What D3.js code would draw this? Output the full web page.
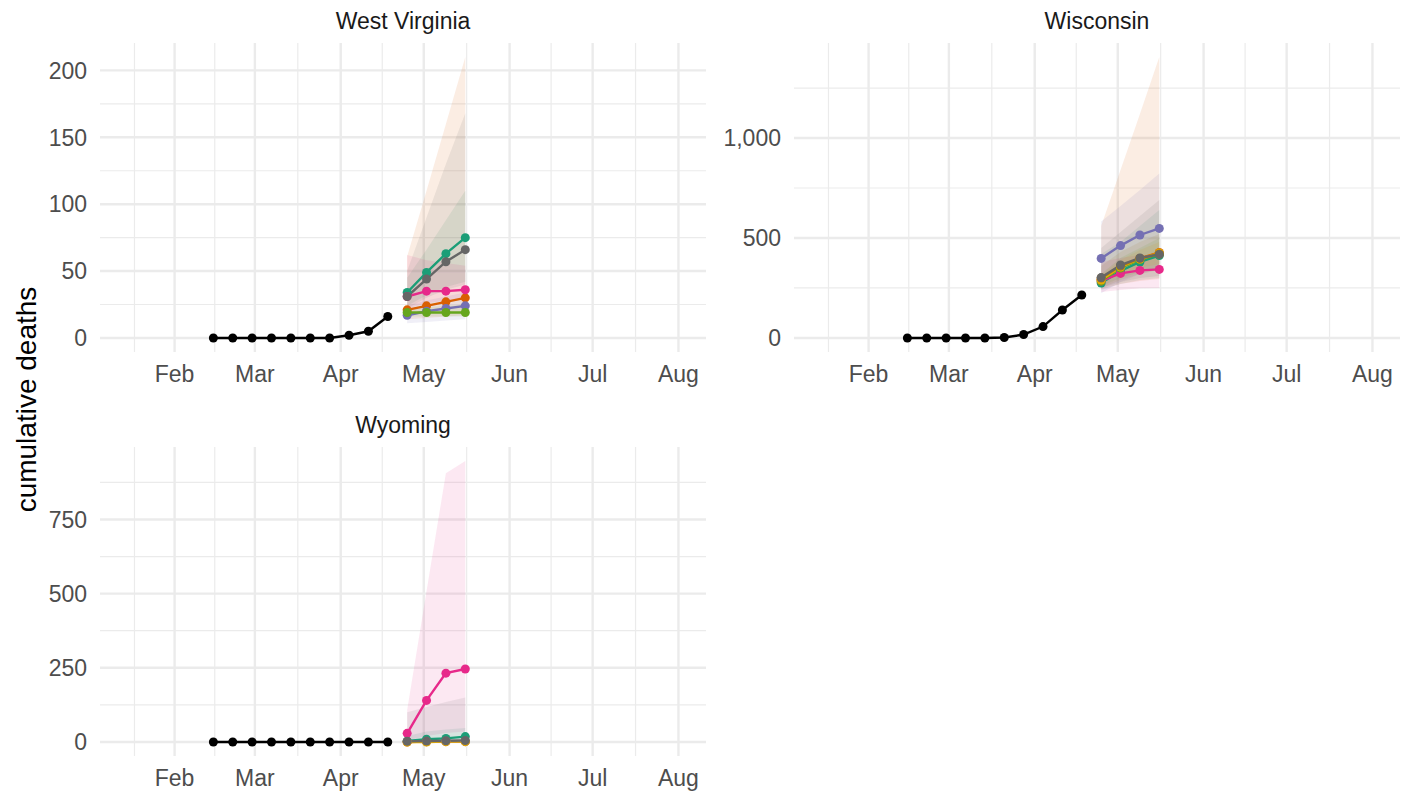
<!DOCTYPE html>
<html>
<head>
<meta charset="utf-8">
<script src="https://cdn.jsdelivr.net/npm/d3@7"></script>
<style>
  html, body { margin: 0; padding: 0; background: #ffffff; }
  svg { display: block; }
  text { font-family: "Liberation Sans", Arial, Helvetica, sans-serif; }
</style>
</head>
<body>
<svg id="chart" width="1404" height="798"></svg>
<script>
// ---------------- DATA ----------------
const states = ["West Virginia", "Wisconsin", "Wyoming"];
const xLimits = ["2020-01-15", "2020-08-01"];
const monthTicks = ["2020-02-01", "2020-03-01", "2020-04-01", "2020-05-01", "2020-06-01", "2020-07-01", "2020-08-01"];
const monthLabels = ["Feb", "Mar", "Apr", "May", "Jun", "Jul", "Aug"];

const obsDates = ["2020-02-15", "2020-02-22", "2020-02-29", "2020-03-07", "2020-03-14",
                  "2020-03-21", "2020-03-28", "2020-04-04", "2020-04-11", "2020-04-18"];
const wvObserved = [0, 0, 0, 0, 0, 0, 0, 2, 5, 16];
const wiObserved = [0, 0, 0, 0, 0, 2, 17, 57, 140, 215];
const wyObserved = [0, 0, 0, 0, 0, 0, 0, 0, 0, 0];

const fcDates = ["2020-04-25", "2020-05-02", "2020-05-09", "2020-05-16"];
const models = ["Model 1", "Model 2", "Model 3", "Model 4", "Model 5", "Model 6", "Model 7", "Model 8"];
const modelColors = ["#1b9e77", "#d95f02", "#7570b3", "#e7298a", "#66a61e", "#e6ab02", "#a6761d", "#666666"];

// West Virginia: median, lower, upper per model (null = no forecast)
const wvMedian = [
  [34, 49, 63, 75],
  [21, 24, 27, 30],
  [17, 20, 22, 24],
  [31, 35, 35, 36],
  [19, 19, 19, 19],
  null,
  null,
  [31, 44, 57, 66]
];
const wvLower = [
  [24, 32, 38, 42],
  [14, 15, 16, 17],
  [11, 12, 13, 14],
  [22, 26, 28, 29],
  [16, 16, 16, 16],
  null,
  null,
  [22, 30, 36, 40]
];
const wvUpper = [
  [45, 66, 88, 110],
  [61, 110, 160, 210],
  [24, 28, 31, 34],
  [62, 58, 56, 54],
  [22, 23, 24, 25],
  null,
  null,
  [50, 90, 130, 168]
];

// Wisconsin
const wiMedian = [
  [275, 335, 380, 412],
  [293, 357, 398, 428],
  [398, 462, 515, 548],
  [285, 323, 338, 343],
  [285, 350, 392, 420],
  [290, 355, 395, 425],
  [300, 360, 398, 420],
  [302, 365, 400, 418]
];
const wiLower = [
  [240, 270, 290, 300],
  [245, 270, 285, 295],
  [223, 280, 320, 345],
  [230, 240, 248, 250],
  [260, 300, 330, 350],
  [270, 320, 350, 370],
  [250, 290, 320, 340],
  [250, 280, 300, 310]
];
const wiUpper = [
  [420, 480, 560, 640],
  [560, 840, 1120, 1405],
  [582, 660, 740, 823],
  [380, 400, 415, 420],
  [320, 400, 450, 500],
  [310, 390, 440, 480],
  [360, 430, 480, 520],
  [450, 530, 610, 690]
];

// Wyoming
const wyMedian = [
  [3, 9, 12, 18],
  [0, 1, 1, 1],
  [1, 1, 2, 2],
  [29, 140, 232, 246],
  null,
  [0, 0, 1, 1],
  null,
  [2, 3, 4, 5]
];
const wyLower = [
  [0, 2, 4, 6],
  [0, 0, 0, 0],
  [0, 0, 0, 0],
  [5, 20, 30, 35],
  null,
  [0, 0, 0, 0],
  null,
  [0, 0, 0, 0]
];
const wyUpper = [
  [20, 35, 42, 47],
  [4, 6, 8, 10],
  [5, 8, 10, 12],
  [108, 508, 906, 947],
  null,
  [3, 4, 5, 6],
  null,
  [100, 118, 135, 150]
];

const yBreaks = [
  [0, 50, 100, 150, 200],
  [0, 500, 1000],
  [0, 250, 500, 750]
];

// ---------------- DRAW ----------------
const svg = d3.select("#chart");
const parse = d3.utcParse("%Y-%m-%d");
const panelW = 606, panelH = 309;
const panels = [
  { x0: 100, y0: 43, obs: wvObserved, med: wvMedian, lo: wvLower, hi: wvUpper },
  { x0: 794, y0: 43, obs: wiObserved, med: wiMedian, lo: wiLower, hi: wiUpper },
  { x0: 100, y0: 447, obs: wyObserved, med: wyMedian, lo: wyLower, hi: wyUpper }
];

const gridCol = "#ebebeb";
const majorW = 2.4, minorW = 1.2;
const tickFont = 23;

function minorBreaks(b, lo, hi) {
  // ggplot2 / scales regular_minor_breaks
  let bb = b.slice();
  const bd = bb[1] - bb[0];
  if (lo < bb[0]) bb.unshift(bb[0] - bd);
  if (hi > bb[bb.length - 1]) bb.push(bb[bb.length - 1] + bd);
  const out = [];
  for (let i = 0; i < bb.length - 1; i++) out.push((bb[i] + bb[i + 1]) / 2);
  return out.filter(v => v >= lo && v <= hi);
}

const xl0 = +parse(xLimits[0]), xl1 = +parse(xLimits[1]);
const xpad = (xl1 - xl0) * 0.05;
const xDom = [xl0 - xpad, xl1 + xpad];
const majorX = monthTicks.map(d => +parse(d));
const minorX = minorBreaks(majorX, xDom[0], xDom[1]);

panels.forEach((p, pi) => {
  const g = svg.append("g").attr("transform", `translate(${p.x0},${p.y0})`);
  const x = d3.scaleUtc().domain(xDom.map(v => new Date(v))).range([0, panelW]);

  // y domain from data (all values)
  let vals = p.obs.slice();
  [p.med, p.lo, p.hi].forEach(arr => arr.forEach(r => { if (r) vals = vals.concat(r); }));
  const ymin = d3.min(vals), ymax = d3.max(vals);
  const ypad = (ymax - ymin) * 0.05;
  const yDom = [ymin - ypad, ymax + ypad];
  const y = d3.scaleLinear().domain(yDom).range([panelH, 0]);

  const majorY = yBreaks[pi];
  const minorY = minorBreaks(majorY, yDom[0], yDom[1]);

  // grid
  const grid = g.append("g");
  grid.selectAll(".ymin").data(minorY).enter().append("line")
    .attr("x1", 0).attr("x2", panelW).attr("y1", d => y(d)).attr("y2", d => y(d))
    .attr("stroke", gridCol).attr("stroke-width", minorW);
  grid.selectAll(".xmin").data(minorX).enter().append("line")
    .attr("y1", 0).attr("y2", panelH).attr("x1", d => x(new Date(d))).attr("x2", d => x(new Date(d)))
    .attr("stroke", gridCol).attr("stroke-width", minorW);
  grid.selectAll(".ymaj").data(majorY).enter().append("line")
    .attr("x1", 0).attr("x2", panelW).attr("y1", d => y(d)).attr("y2", d => y(d))
    .attr("stroke", gridCol).attr("stroke-width", majorW);
  grid.selectAll(".xmaj").data(majorX).enter().append("line")
    .attr("y1", 0).attr("y2", panelH).attr("x1", d => x(new Date(d))).attr("x2", d => x(new Date(d)))
    .attr("stroke", gridCol).attr("stroke-width", majorW);

  // y axis labels
  const fmt = d3.format(",");
  g.append("g").selectAll("text").data(majorY).enter().append("text")
    .attr("x", -13).attr("y", d => y(d)).attr("dy", "0.36em")
    .attr("text-anchor", "end").attr("font-size", tickFont).attr("fill", "#4d4d4d")
    .text(d => fmt(d));

  // x axis labels
  g.append("g").selectAll("text").data(majorX).enter().append("text")
    .attr("x", d => x(new Date(d))).attr("y", panelH + 30)
    .attr("text-anchor", "middle").attr("font-size", tickFont).attr("fill", "#4d4d4d")
    .text((d, i) => monthLabels[i]);

  // strip title
  g.append("text").attr("x", panelW / 2).attr("y", -14)
    .attr("text-anchor", "middle").attr("font-size", tickFont).attr("fill", "#1a1a1a")
    .text(states[pi]);

  const fd = fcDates.map(parse);

  // ribbons
  const area = d3.area().x(d => x(d.date)).y0(d => y(d.lo)).y1(d => y(d.hi));
  models.forEach((m, mi) => {
    if (!p.lo[mi]) return;
    const rows = fd.map((d, k) => ({ date: d, lo: p.lo[mi][k], hi: p.hi[mi][k] }));
    g.append("path").attr("d", area(rows))
      .attr("fill", modelColors[mi]).attr("fill-opacity", 0.11).attr("stroke", "none");
  });

  // observed
  const od = obsDates.map((d, k) => ({ date: parse(d), v: p.obs[k] }));
  const line = d3.line().x(d => x(d.date)).y(d => y(d.v));
  g.append("path").attr("d", line(od)).attr("fill", "none")
    .attr("stroke", "#000").attr("stroke-width", 2.4);
  g.append("g").selectAll("circle").data(od).enter().append("circle")
    .attr("cx", d => x(d.date)).attr("cy", d => y(d.v)).attr("r", 4.5).attr("fill", "#000");

  // forecast lines
  models.forEach((m, mi) => {
    if (!p.med[mi]) return;
    const rows = fd.map((d, k) => ({ date: d, v: p.med[mi][k] }));
    g.append("path").attr("d", line(rows)).attr("fill", "none")
      .attr("stroke", modelColors[mi]).attr("stroke-width", 2.4);
  });
  models.forEach((m, mi) => {
    if (!p.med[mi]) return;
    const rows = fd.map((d, k) => ({ date: d, v: p.med[mi][k] }));
    g.append("g").selectAll("circle").data(rows).enter().append("circle")
      .attr("cx", d => x(d.date)).attr("cy", d => y(d.v)).attr("r", 4.5)
      .attr("fill", modelColors[mi]);
  });
});

// y axis title
svg.append("text")
  .attr("transform", "translate(36,399.5) rotate(-90)")
  .attr("text-anchor", "middle").attr("font-size", 28).attr("fill", "#000")
  .text("cumulative deaths");
</script>
</body>
</html>
